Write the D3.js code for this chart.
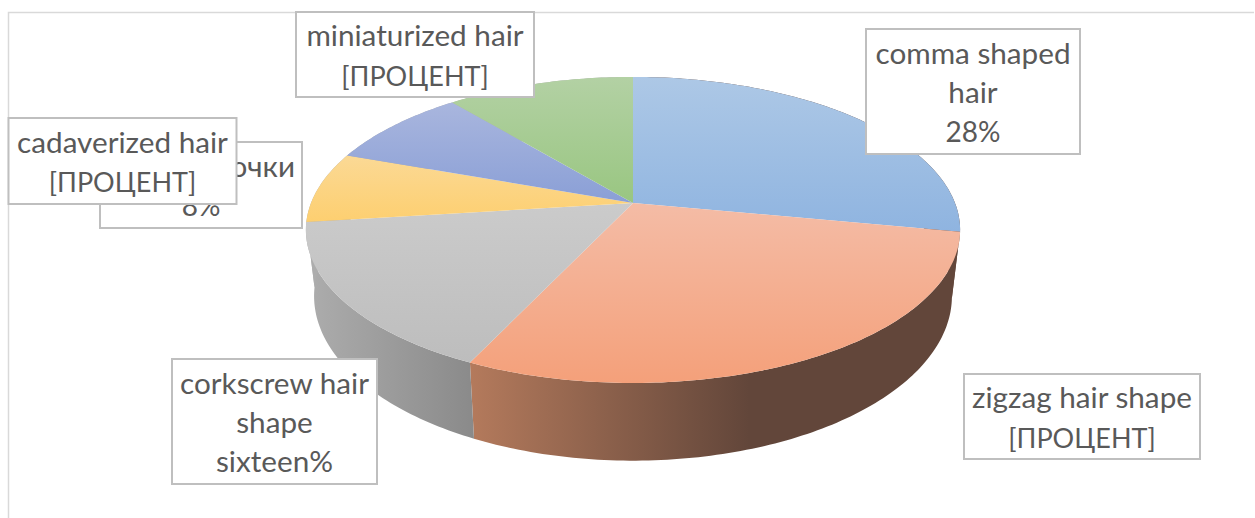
<!DOCTYPE html>
<html>
<head>
<meta charset="utf-8">
<script src="https://cdn.jsdelivr.net/npm/d3@7"></script>
<style>
  html, body { margin: 0; padding: 0; background: #fff; }
  svg { display: block; }
  text { font-family: Lato, "Open Sans", sans-serif; fill: #595959; }
</style>
</head>
<body>
<div id="chart"></div>
<script>
// Values
const categories = ["comma shaped hair", "zigzag hair shape", "corkscrew hair shape", "чёрные точки", "cadaverized hair", "miniaturized hair"];
const shares = [28, 29, 16, 7.5, 8.5, 11];
const labelLines = [
    ["comma shaped", "hair", "28%"],
    ["zigzag hair shape", "[ПРОЦЕНТ]"],
    ["corkscrew hair", "shape", "sixteen%"],
    ["чёрные точки", "8%"],
    ["cadaverized hair", "[ПРОЦЕНТ]"],
    ["miniaturized hair", "[ПРОЦЕНТ]"]
];
const topColors = [
    ["#adc8e6", "#8fb4e0"],
    ["#f4bca6", "#f4a07a"],
    ["#cbcbcb", "#bdbdbd"],
    ["#fbd995", "#fdcf70"],
    ["#a9b6de", "#8a9fd6"],
    ["#b3d1a4", "#99c681"]
];
const sideColors = [
    ["#62463a", "#62463a"],
    ["#b47a5c", "#62463a"],
    ["#adadad", "#8a8a8a"],
    ["#adadad", "#adadad"],
    ["#adadad", "#adadad"],
    ["#adadad", "#adadad"]
];
// where each wall gradient reaches its last colour
const sideEnds = [1, 0.57, 1, 1, 1, 1];

const width = 1255, height = 518;

const svg = d3.select("#chart").append("svg")
    .attr("width", width)
    .attr("height", height);

// Marco del gráfico
svg.append("path")
    .attr("d", `M8.5,${height} V12.5 H1254`)
    .attr("fill", "none")
    .attr("stroke", "#d9d9d9")
    .attr("stroke-width", 1.5);

// 3D pie: perspective projection of the unit disc
const cx = 633, cy = 203;
const kx = 322, ky = 148.3, persp = -0.176, depth = 64, shrink = 0.025;

function project(angle, r, h) {
    const u = r * Math.sin(angle), v = -r * Math.cos(angle);
    const w = 1 + persp * v;
    return [cx + (1 - shrink * h) * kx * u / w, cy + (ky * v + depth * h) / w];
}

const pie = d3.pie().sort(null).value(d => d);
const slices = pie(shares).map((d, i) => ({ ...d, i }));
const line = d3.line();

function arcPoints(d, h) {
    const n = Math.max(2, Math.ceil((d.endAngle - d.startAngle) * 60));
    return d3.range(n + 1).map(j => project(d.startAngle + (d.endAngle - d.startAngle) * j / n, 1, h));
}

const defs = svg.append("defs");

slices.forEach(d => {
    const top = defs.append("linearGradient")
        .attr("id", `top${d.i}`)
        .attr("x1", 0).attr("y1", 0).attr("x2", 0).attr("y2", 1);
    top.append("stop").attr("offset", 0).attr("stop-color", topColors[d.i][0]);
    top.append("stop").attr("offset", 1).attr("stop-color", topColors[d.i][1]);

    const side = defs.append("linearGradient")
        .attr("id", `side${d.i}`)
        .attr("x1", 0).attr("y1", 0).attr("x2", 1).attr("y2", 0);
    side.append("stop").attr("offset", 0).attr("stop-color", sideColors[d.i][0]);
    side.append("stop").attr("offset", sideEnds[d.i]).attr("stop-color", sideColors[d.i][1]);
});

// Paredes laterales
svg.append("g").selectAll("path")
    .data(slices)
    .join("path")
    .attr("d", d => line([...arcPoints(d, 0), ...arcPoints(d, 1).reverse()]) + "Z")
    .attr("fill", d => `url(#side${d.i})`);

// Tapa
svg.append("g").selectAll("path")
    .data(slices)
    .join("path")
    .attr("d", d => line([project(0, 0, 0), ...arcPoints(d, 0)]) + "Z")
    .attr("fill", d => `url(#top${d.i})`);

// Label boxes, painted in the picture's stacking order
const labelBoxes = [
    { i: 3, x: 100, y: 142, w: 202, h: 86 },
    { i: 4, x: 8.5, y: 118, w: 228, h: 86 },
    { i: 5, x: 296, y: 12, w: 238, h: 85 },
    { i: 0, x: 866, y: 29, w: 214, h: 125 },
    { i: 1, x: 964, y: 374, w: 236, h: 85 },
    { i: 2, x: 172, y: 359, w: 205, h: 125 }
];

const lineHeight = 39.3, baselineShift = 11.5;

// Lato runs wider than the original face on capitals and figures
const rowSize = t => t.startsWith("[") ? 27 : /^\d/.test(t) ? 28 : 29.7;

const labels = svg.append("g").selectAll("g")
    .data(labelBoxes)
    .join("g");

labels.append("rect")
    .attr("x", b => b.x)
    .attr("y", b => b.y)
    .attr("width", b => b.w)
    .attr("height", b => b.h)
    .attr("fill", "#fff")
    .attr("stroke", "#bfbfbf")
    .attr("stroke-width", 2);

labels.each(function(b) {
    const rows = labelLines[b.i];
    const firstY = b.y + b.h / 2 - (rows.length - 1) * lineHeight / 2 + baselineShift;
    d3.select(this).selectAll("text")
        .data(rows)
        .join("text")
        .attr("x", b.x + b.w / 2)
        .attr("y", (t, j) => firstY + j * lineHeight)
        .attr("text-anchor", "middle")
        .style("font-size", t => `${rowSize(t)}px`)
        .text(t => t);
});
</script>
</body>
</html>
